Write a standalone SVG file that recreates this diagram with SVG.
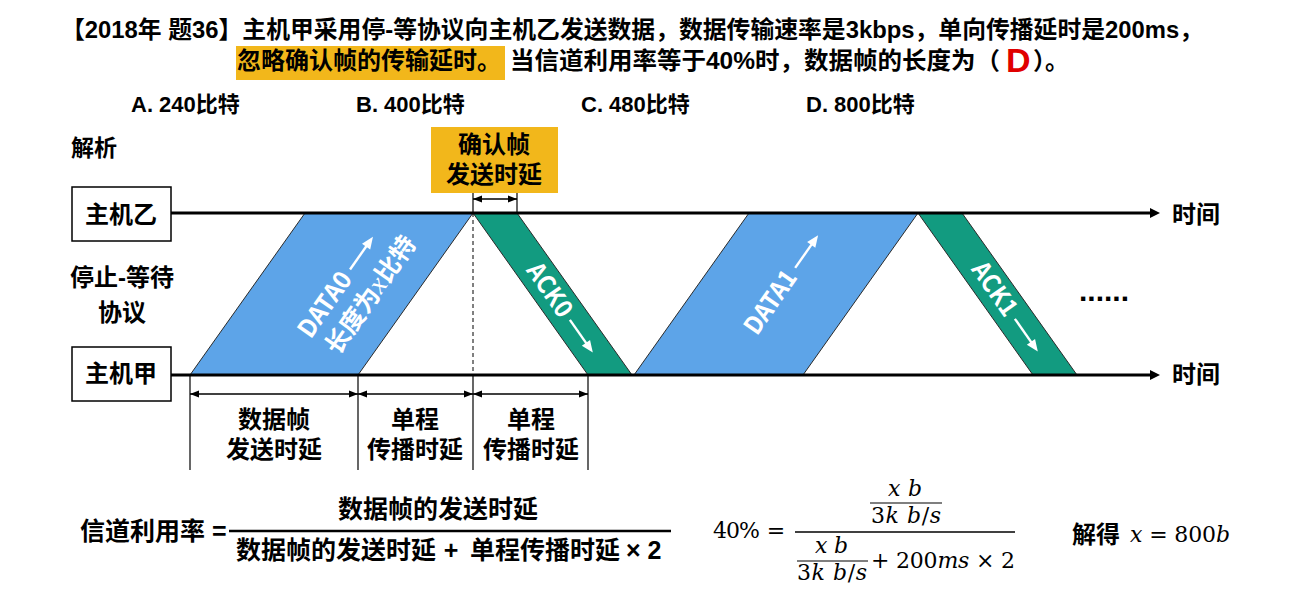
<svg xmlns="http://www.w3.org/2000/svg" width="1289" height="604" viewBox="0 0 1289 604">
<defs>
<style>
.t{font-family:"Liberation Sans","Noto Sans CJK SC",sans-serif;font-weight:bold;fill:#000}
.red{fill:#E00000}
.w{font-family:"Noto Sans CJK SC","Liberation Sans",sans-serif;font-weight:bold;fill:#fff;font-size:25px}
.m{font-family:"DejaVu Serif","Liberation Serif",serif;font-size:22px;fill:#000}
.i{font-style:italic}
.tl{stroke:#000;stroke-width:3;fill:none}
.dim{stroke:#000;stroke-width:1.3;fill:none}
.tick{stroke:#000;stroke-width:1.2;fill:none}
.blue{fill:#5DA4E8;stroke:#2a2a2a;stroke-width:1}
.green{fill:#129B80;stroke:#2a2a2a;stroke-width:1}
.box{fill:#fff;stroke:#000;stroke-width:1.5}
.frac{stroke:#000;fill:none}
</style>
<marker id="ah" markerUnits="userSpaceOnUse" markerWidth="12" markerHeight="12" viewBox="0 0 12 12" refX="2" refY="6" orient="auto"><path d="M0,1 L10,6 L0,11 z" fill="#000"/></marker>
<marker id="dh" markerUnits="userSpaceOnUse" markerWidth="9" markerHeight="8" viewBox="0 0 9 8" refX="9" refY="4" orient="auto-start-reverse"><path d="M0,0.5 L9,4 L0,7.5 z" fill="#000"/></marker>
<g id="warr"><line x1="0" y1="0" x2="30" y2="0" stroke="#fff" stroke-width="2.4"/><path d="M40,0 L28,-5 L28,5 z" fill="#fff"/></g>
</defs>

<g id="title">
<text class="t" x="61" y="38" font-size="24" textLength="1142" lengthAdjust="spacingAndGlyphs">【2018年 题36】主机甲采用停-等协议向主机乙发送数据，数据传输速率是3kbps，单向传播延时是200ms，</text>
<rect x="236" y="46" width="269" height="34" fill="#F2B71B"/>
<text class="t" x="237" y="69" font-size="24">忽略确认帧的传输延时。</text>
<text class="t" x="510" y="69" font-size="24" textLength="490" lengthAdjust="spacingAndGlyphs">当信道利用率等于40%时，数据帧的长度为（</text>
<text class="t red" x="1006" y="72" font-size="34">D</text>
<text class="t" x="1033" y="69" font-size="24">）。</text>
</g>

<g id="options">
<text class="t" x="131" y="112" font-size="22">A. 240比特</text>
<text class="t" x="356" y="112" font-size="22">B. 400比特</text>
<text class="t" x="581" y="112" font-size="22">C. 480比特</text>
<text class="t" x="806" y="112" font-size="22">D. 800比特</text>
</g>

<text class="t" x="71" y="156" font-size="23">解析</text>

<g id="host-yi">
<rect class="box" x="72" y="187" width="99" height="54"/>
<text class="t" x="121" y="223" font-size="24" text-anchor="middle">主机乙</text>
</g>

<g id="protocol-label">
<text class="t" x="122" y="286" font-size="24" text-anchor="middle">停止-等待</text>
<text class="t" x="122" y="321" font-size="24" text-anchor="middle">协议</text>
</g>

<g id="host-jia">
<rect class="box" x="72" y="347" width="99" height="54"/>
<text class="t" x="121" y="382" font-size="24" text-anchor="middle">主机甲</text>
</g>

<g id="data0">
<polygon class="blue" points="190,375 358,375 473,213 305,213"/>
<g transform="translate(342,281) rotate(-55)">
<text class="w" x="-66" y="8" textLength="74" lengthAdjust="spacingAndGlyphs">DATA0</text>
<use href="#warr" x="14" y="0"/>
<text class="w" x="5" y="40" text-anchor="middle">长度为<tspan font-family="Liberation Serif" font-style="italic" font-weight="normal" font-size="28">x</tspan>比特</text>
</g>
</g>

<g id="ack0">
<polygon class="green" points="473,213 517,213 632,375 588,375"/>
<g transform="translate(563,310) rotate(55)">
<text class="w" x="-54" y="8" textLength="60" lengthAdjust="spacingAndGlyphs">ACK0</text>
<use href="#warr" x="12" y="0"/>
</g>
</g>

<g id="data1">
<polygon class="blue" points="634,375 803,375 918,213 749,213"/>
<g transform="translate(786,281) rotate(-55)">
<text class="w" x="-62" y="8" textLength="72" lengthAdjust="spacingAndGlyphs">DATA1</text>
<use href="#warr" x="16" y="0"/>
</g>
</g>

<g id="ack1">
<polygon class="green" points="918,213 962,213 1077,375 1033,375"/>
<g transform="translate(1008,309) rotate(55)">
<text class="w" x="-54" y="8" textLength="60" lengthAdjust="spacingAndGlyphs">ACK1</text>
<use href="#warr" x="12" y="0"/>
</g>
</g>

<g id="ack-delay-note">
<rect x="431" y="127" width="127" height="66" fill="#F2B71B"/>
<text class="t" x="494" y="153" font-size="24" text-anchor="middle">确认帧</text>
<text class="t" x="494" y="183" font-size="24" text-anchor="middle">发送时延</text>
</g>

<g id="connectors">
<line class="tl" x1="171" y1="213" x2="1152" y2="213" marker-end="url(#ah)"/>
<line class="tl" x1="171" y1="375" x2="1152" y2="375" marker-end="url(#ah)"/>
<line x1="473" y1="213" x2="473" y2="375" stroke="#000" stroke-width="1" stroke-dasharray="4,3"/>
<line class="tick" x1="473" y1="193" x2="473" y2="213"/>
<line class="tick" x1="517" y1="193" x2="517" y2="213"/>
<line class="dim" x1="473" y1="199" x2="517" y2="199" marker-start="url(#dh)" marker-end="url(#dh)"/>
<line class="tick" x1="190" y1="375" x2="190" y2="470"/>
<line class="tick" x1="358" y1="375" x2="358" y2="470"/>
<line class="tick" x1="473" y1="375" x2="473" y2="470"/>
<line class="tick" x1="588" y1="375" x2="588" y2="470"/>
<line class="dim" x1="190" y1="394" x2="358" y2="394" marker-start="url(#dh)" marker-end="url(#dh)"/>
<line class="dim" x1="358" y1="394" x2="473" y2="394" marker-start="url(#dh)" marker-end="url(#dh)"/>
<line class="dim" x1="473" y1="394" x2="588" y2="394" marker-start="url(#dh)" marker-end="url(#dh)"/>
</g>

<g id="time-labels">
<text class="t" x="1172" y="223" font-size="24">时间</text>
<text class="t" x="1172" y="383" font-size="24">时间</text>
<text x="1079" y="301" font-family="Liberation Sans, sans-serif" font-weight="bold" font-size="30" fill="#000">......</text>
</g>

<g id="dim-labels">
<text class="t" x="274" y="428" font-size="24" text-anchor="middle">数据帧</text>
<text class="t" x="274" y="458" font-size="24" text-anchor="middle">发送时延</text>
<text class="t" x="415" y="428" font-size="24" text-anchor="middle">单程</text>
<text class="t" x="415" y="458" font-size="24" text-anchor="middle">传播时延</text>
<text class="t" x="531" y="428" font-size="24" text-anchor="middle">单程</text>
<text class="t" x="531" y="458" font-size="24" text-anchor="middle">传播时延</text>
</g>

<g id="formula-left">
<text class="t" x="80" y="540" font-size="25">信道利用率 =</text>
<line class="frac" x1="229" y1="531" x2="671" y2="531" stroke-width="2.5"/>
<text class="t" x="338" y="518" font-size="25">数据帧的发送时延</text>
<text class="t" x="236" y="559" font-size="25">数据帧的发送时延</text>
<text class="t" x="451" y="559" font-size="25" text-anchor="middle">+</text>
<text class="t" x="470" y="559" font-size="25">单程传播时延</text>
<text class="t" x="626" y="559" font-size="25">× 2</text>
</g>

<g id="formula-right">
<text class="m" x="713" y="538" textLength="47">40%</text>
<text class="m" x="776" y="538" text-anchor="middle">=</text>
<line class="frac" x1="795" y1="532" x2="1015" y2="532" stroke-width="1.5"/>
<text class="m i" x="888" y="496" textLength="34">x b</text>
<line class="frac" x1="870" y1="503" x2="942" y2="503" stroke-width="1.2"/>
<text class="m" x="871" y="523" textLength="70">3<tspan class="i">k b</tspan>/<tspan class="i">s</tspan></text>
<text class="m i" x="815" y="553" textLength="33">x b</text>
<line class="frac" x1="797" y1="561" x2="868" y2="561" stroke-width="1.2"/>
<text class="m" x="797" y="580" textLength="70">3<tspan class="i">k b</tspan>/<tspan class="i">s</tspan></text>
<text class="m" x="871" y="568" textLength="144">+ 200<tspan class="i">ms</tspan> × 2</text>
<text class="t" x="1072" y="543" font-size="24">解得</text>
<text class="m" x="1130" y="542" textLength="100"><tspan class="i">x</tspan> = 800<tspan class="i">b</tspan></text>
</g>
</svg>
